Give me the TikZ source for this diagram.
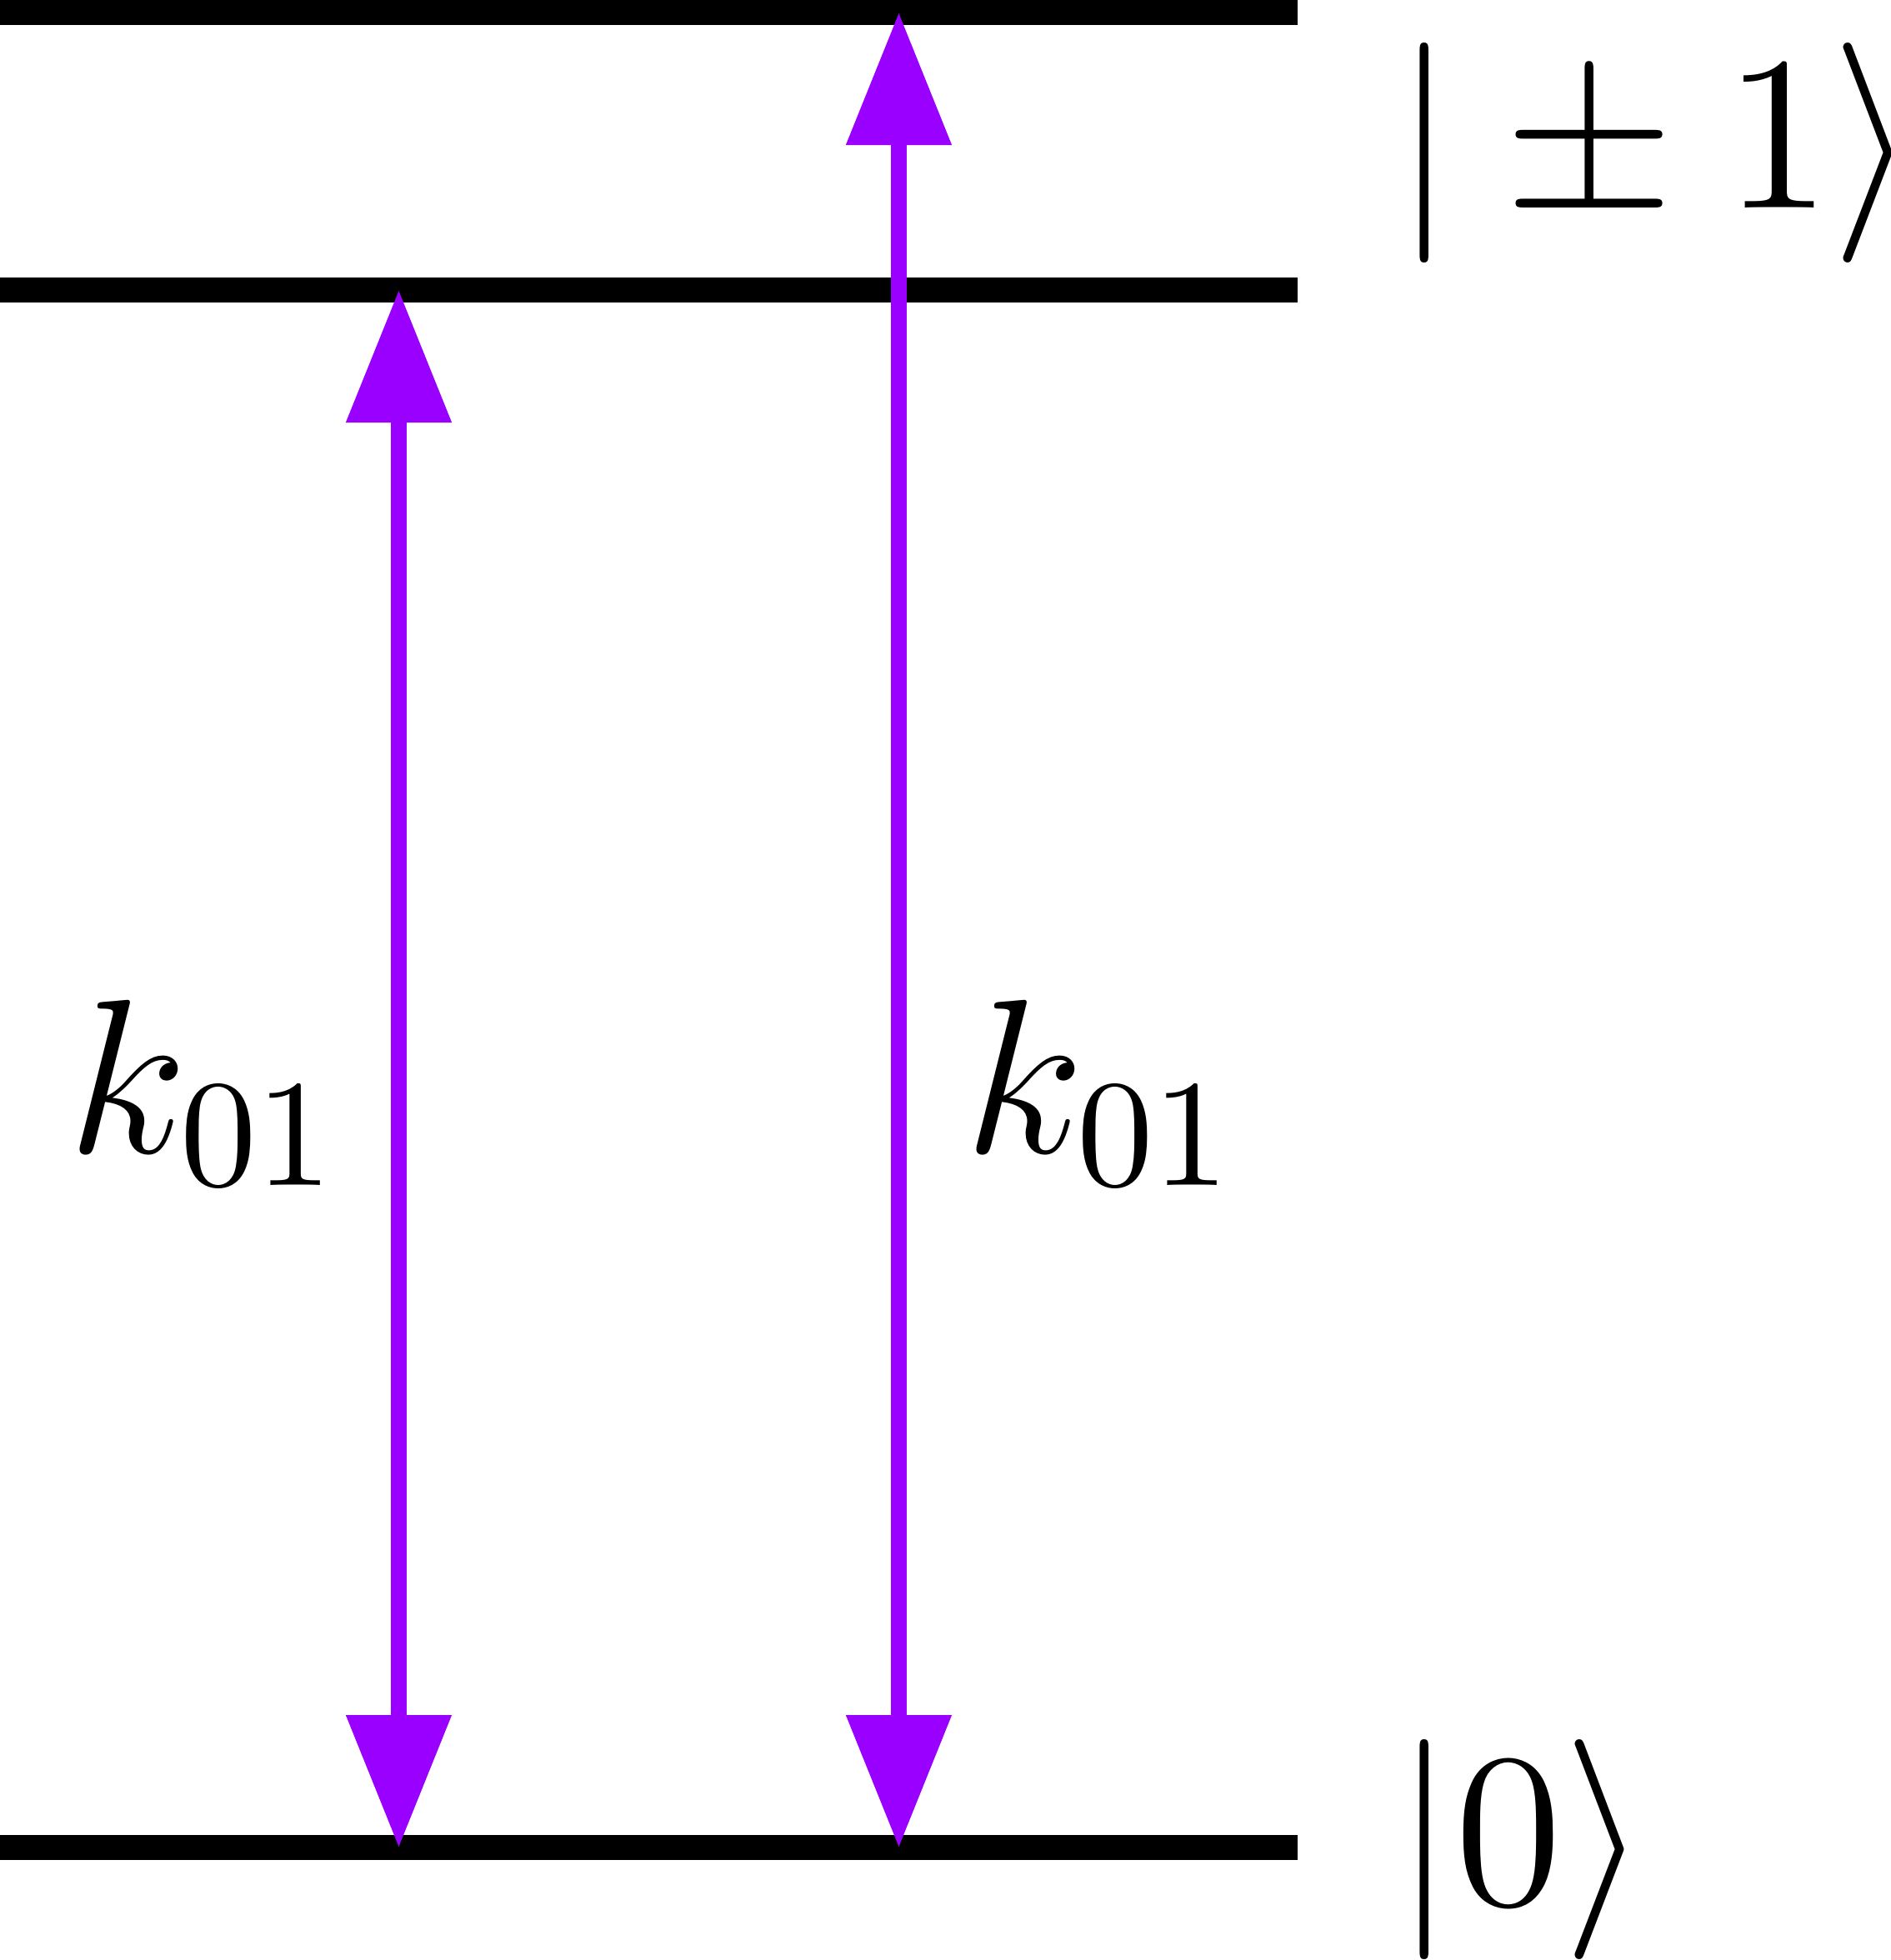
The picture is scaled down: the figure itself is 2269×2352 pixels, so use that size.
\RequirePackage{fix-cm}
\documentclass[tikz,border=0pt]{standalone}
\usetikzlibrary{arrows.meta}
\definecolor{transviolet}{HTML}{9900FF}
\begin{document}
\begin{tikzpicture}[x=0.1pt,y=-0.1pt,
  level/.style={line width=3.07pt},
  transition/.style={draw=transviolet, line width=1.87pt,
    {Triangle[width=12.2pt,length=15.9pt]}-{Triangle[width=12.2pt,length=15.9pt]}},
  lbl/.style={inner sep=0pt, anchor=base west, font=\Large, scale=1.8333}]
\useasboundingbox (0,0) rectangle (2269,2352);
% energy levels
\coordinate (tL) at (0,15);    \coordinate (tR) at (1557,15);
\coordinate (mL) at (0,348);   \coordinate (mR) at (1557,348);
\coordinate (bL) at (0,2217);  \coordinate (bR) at (1557,2217);
\draw[level] (tL) -- (tR);
\draw[level] (mL) -- (mR);
\draw[level] (bL) -- (bR);
% transitions
\coordinate (a1top) at (478.5,348);  \coordinate (a1bot) at (478.5,2217);
\coordinate (a2top) at (1078.5,15);  \coordinate (a2bot) at (1078.5,2217);
\draw[transition] (a1bot) -- (a1top);
\draw[transition] (a2bot) -- (a2top);
% labels
\node[lbl] (k1) at (78,1383) {$k_{01}$};
\node[lbl] (k2) at (1154,1383) {$k_{01}$};
\node[lbl] (pm1) at (1669,249.5) {$|\pm 1\rangle$};
\node[lbl] (zero) at (1669,2285) {$|0\rangle$};
\end{tikzpicture}
\end{document}
